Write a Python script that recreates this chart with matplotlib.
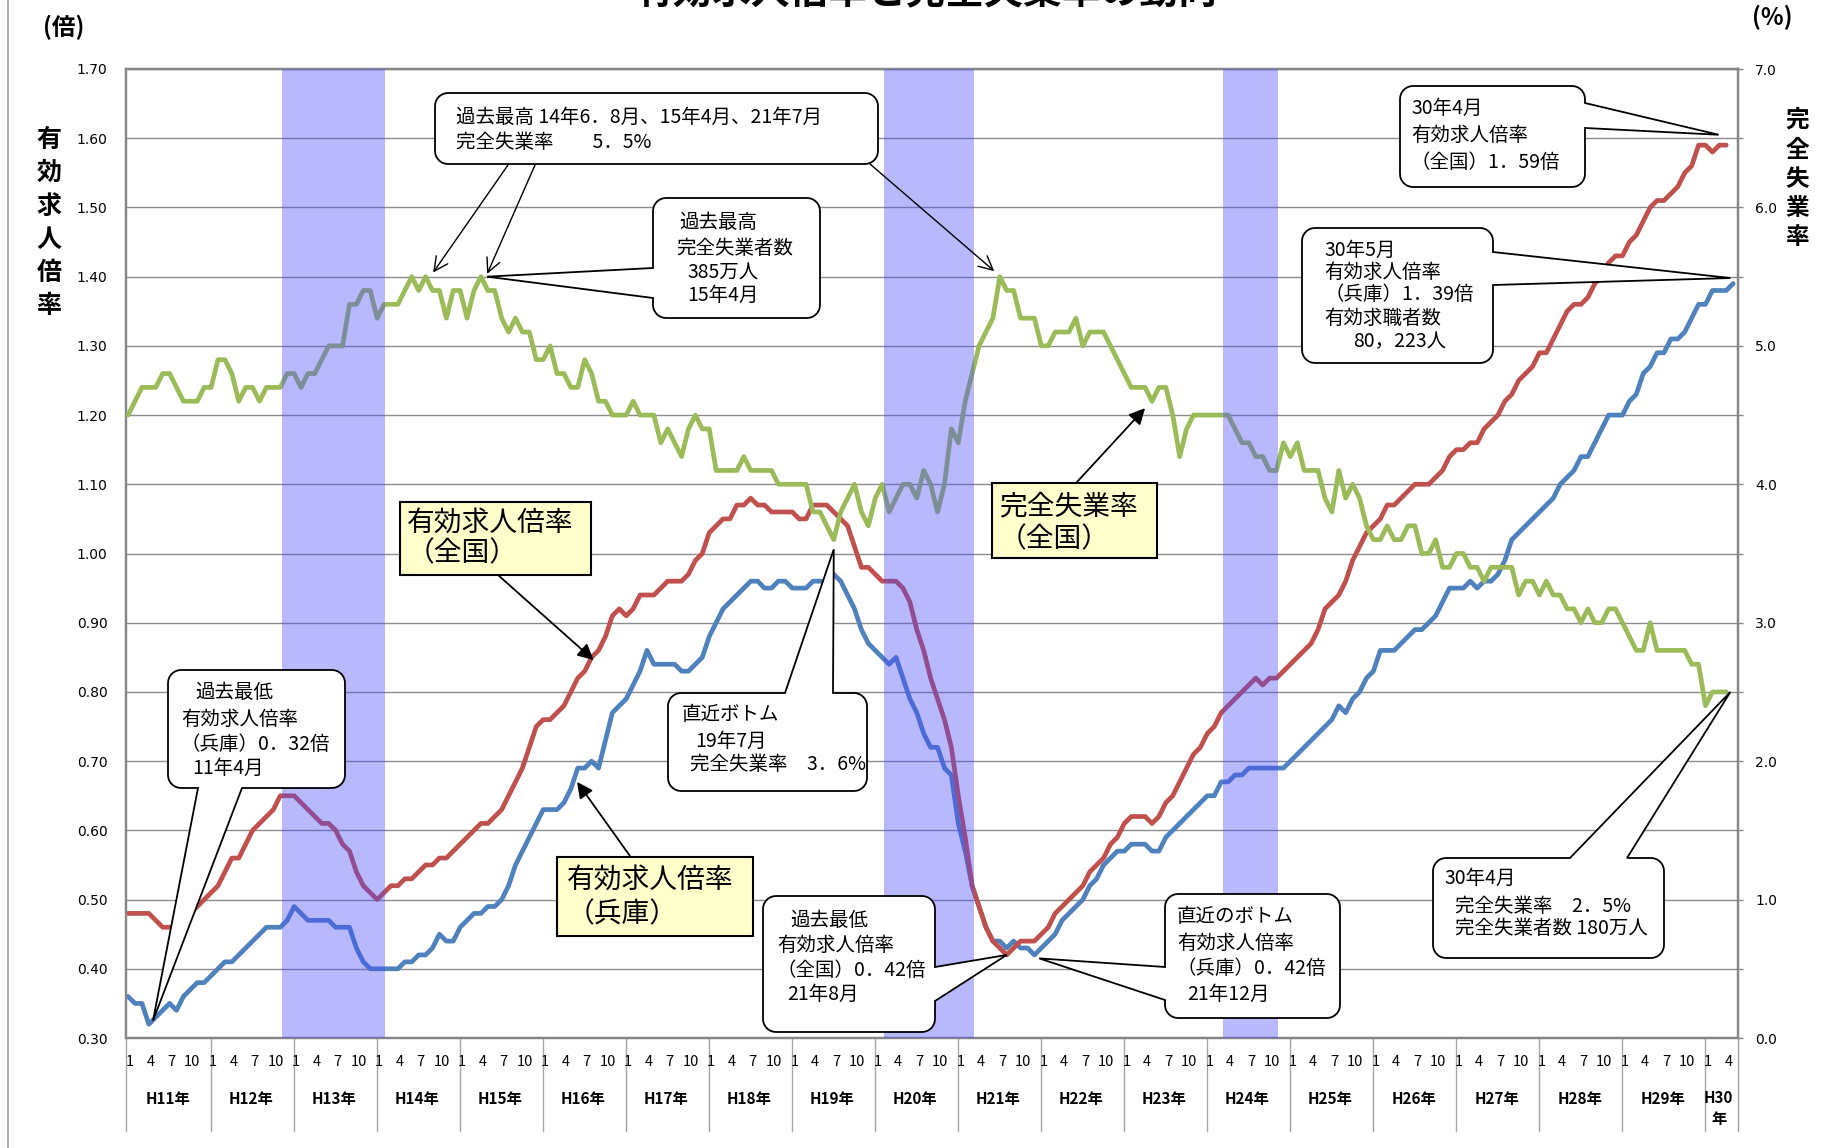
import numpy as np
import matplotlib
matplotlib.use('Agg')
import matplotlib.pyplot as plt
from matplotlib.patches import Polygon, Rectangle
from matplotlib.lines import Line2D
from matplotlib.transforms import IdentityTransform, blended_transform_factory
from matplotlib.ticker import FormatStrFormatter, MultipleLocator

plt.rcParams['font.family'] = ['Noto Sans CJK JP', 'DejaVu Sans']
plt.rcParams['hatch.linewidth'] = 0.5

# ---------------- data (monthly, H11.1 - H30.5) ----------------
year_labels = ['H11年', 'H12年', 'H13年', 'H14年', 'H15年', 'H16年', 'H17年', 'H18年', 'H19年', 'H20年',
               'H21年', 'H22年', 'H23年', 'H24年', 'H25年', 'H26年', 'H27年', 'H28年', 'H29年', 'H30年']
month_labels = ['1', '4', '7', '10']

# 有効求人倍率（全国） H11.1 - H30.4
ratio_national = [
    0.48, 0.48, 0.48, 0.48, 0.47, 0.46, 0.46, 0.46, 0.47, 0.48, 0.49, 0.50,
    0.51, 0.52, 0.54, 0.56, 0.56, 0.58, 0.60, 0.61, 0.62, 0.63, 0.65, 0.65,
    0.65, 0.64, 0.63, 0.62, 0.61, 0.61, 0.60, 0.58, 0.57, 0.54, 0.52, 0.51,
    0.50, 0.51, 0.52, 0.52, 0.53, 0.53, 0.54, 0.55, 0.55, 0.56, 0.56, 0.57,
    0.58, 0.59, 0.60, 0.61, 0.61, 0.62, 0.63, 0.65, 0.67, 0.69, 0.72, 0.75,
    0.76, 0.76, 0.77, 0.78, 0.80, 0.82, 0.83, 0.85, 0.86, 0.88, 0.91, 0.92,
    0.91, 0.92, 0.94, 0.94, 0.94, 0.95, 0.96, 0.96, 0.96, 0.97, 0.99, 1.00,
    1.03, 1.04, 1.05, 1.05, 1.07, 1.07, 1.08, 1.07, 1.07, 1.06, 1.06, 1.06,
    1.06, 1.05, 1.05, 1.07, 1.07, 1.07, 1.06, 1.05, 1.04, 1.01, 0.98, 0.98,
    0.97, 0.96, 0.96, 0.96, 0.95, 0.93, 0.89, 0.86, 0.82, 0.79, 0.76, 0.72,
    0.65, 0.59, 0.52, 0.49, 0.46, 0.44, 0.43, 0.42, 0.43, 0.44, 0.44, 0.44,
    0.45, 0.46, 0.48, 0.49, 0.50, 0.51, 0.52, 0.54, 0.55, 0.56, 0.58, 0.59,
    0.61, 0.62, 0.62, 0.62, 0.61, 0.62, 0.64, 0.65, 0.67, 0.69, 0.71, 0.72,
    0.74, 0.75, 0.77, 0.78, 0.79, 0.80, 0.81, 0.82, 0.81, 0.82, 0.82, 0.83,
    0.84, 0.85, 0.86, 0.87, 0.89, 0.92, 0.93, 0.94, 0.96, 0.99, 1.01, 1.03,
    1.04, 1.05, 1.07, 1.07, 1.08, 1.09, 1.10, 1.10, 1.10, 1.11, 1.12, 1.14,
    1.15, 1.15, 1.16, 1.16, 1.18, 1.19, 1.20, 1.22, 1.23, 1.25, 1.26, 1.27,
    1.29, 1.29, 1.31, 1.33, 1.35, 1.36, 1.36, 1.37, 1.39, 1.40, 1.42, 1.43,
    1.43, 1.45, 1.46, 1.48, 1.50, 1.51, 1.51, 1.52, 1.53, 1.55, 1.56, 1.59,
    1.59, 1.58, 1.59, 1.59,
]

# 有効求人倍率（兵庫） H11.1 - H30.5
ratio_hyogo = [
    0.36, 0.35, 0.35, 0.32, 0.33, 0.34, 0.35, 0.34, 0.36, 0.37, 0.38, 0.38,
    0.39, 0.40, 0.41, 0.41, 0.42, 0.43, 0.44, 0.45, 0.46, 0.46, 0.46, 0.47,
    0.49, 0.48, 0.47, 0.47, 0.47, 0.47, 0.46, 0.46, 0.46, 0.43, 0.41, 0.40,
    0.40, 0.40, 0.40, 0.40, 0.41, 0.41, 0.42, 0.42, 0.43, 0.45, 0.44, 0.44,
    0.46, 0.47, 0.48, 0.48, 0.49, 0.49, 0.50, 0.52, 0.55, 0.57, 0.59, 0.61,
    0.63, 0.63, 0.63, 0.64, 0.66, 0.69, 0.69, 0.70, 0.69, 0.73, 0.77, 0.78,
    0.79, 0.81, 0.83, 0.86, 0.84, 0.84, 0.84, 0.84, 0.83, 0.83, 0.84, 0.85,
    0.88, 0.90, 0.92, 0.93, 0.94, 0.95, 0.96, 0.96, 0.95, 0.95, 0.96, 0.96,
    0.95, 0.95, 0.95, 0.96, 0.96, 0.96, 0.97, 0.96, 0.94, 0.92, 0.89, 0.87,
    0.86, 0.85, 0.84, 0.85, 0.82, 0.79, 0.77, 0.74, 0.72, 0.72, 0.69, 0.68,
    0.61, 0.57, 0.52, 0.49, 0.46, 0.44, 0.44, 0.43, 0.44, 0.43, 0.43, 0.42,
    0.43, 0.44, 0.45, 0.47, 0.48, 0.49, 0.50, 0.52, 0.53, 0.55, 0.56, 0.57,
    0.57, 0.58, 0.58, 0.58, 0.57, 0.57, 0.59, 0.60, 0.61, 0.62, 0.63, 0.64,
    0.65, 0.65, 0.67, 0.67, 0.68, 0.68, 0.69, 0.69, 0.69, 0.69, 0.69, 0.69,
    0.70, 0.71, 0.72, 0.73, 0.74, 0.75, 0.76, 0.78, 0.77, 0.79, 0.80, 0.82,
    0.83, 0.86, 0.86, 0.86, 0.87, 0.88, 0.89, 0.89, 0.90, 0.91, 0.93, 0.95,
    0.95, 0.95, 0.96, 0.95, 0.96, 0.96, 0.97, 0.99, 1.02, 1.03, 1.04, 1.05,
    1.06, 1.07, 1.08, 1.10, 1.11, 1.12, 1.14, 1.14, 1.16, 1.18, 1.20, 1.20,
    1.20, 1.22, 1.23, 1.26, 1.27, 1.29, 1.29, 1.31, 1.31, 1.32, 1.34, 1.36,
    1.36, 1.38, 1.38, 1.38, 1.39,
]

# 完全失業率（全国, %） H11.1 - H30.4
unemployment = [
    4.5, 4.6, 4.7, 4.7, 4.7, 4.8, 4.8, 4.7, 4.6, 4.6, 4.6, 4.7,
    4.7, 4.9, 4.9, 4.8, 4.6, 4.7, 4.7, 4.6, 4.7, 4.7, 4.7, 4.8,
    4.8, 4.7, 4.8, 4.8, 4.9, 5.0, 5.0, 5.0, 5.3, 5.3, 5.4, 5.4,
    5.2, 5.3, 5.3, 5.3, 5.4, 5.5, 5.4, 5.5, 5.4, 5.4, 5.2, 5.4,
    5.4, 5.2, 5.4, 5.5, 5.4, 5.4, 5.2, 5.1, 5.2, 5.1, 5.1, 4.9,
    4.9, 5.0, 4.8, 4.8, 4.7, 4.7, 4.9, 4.8, 4.6, 4.6, 4.5, 4.5,
    4.5, 4.6, 4.5, 4.5, 4.5, 4.3, 4.4, 4.3, 4.2, 4.4, 4.5, 4.4,
    4.4, 4.1, 4.1, 4.1, 4.1, 4.2, 4.1, 4.1, 4.1, 4.1, 4.0, 4.0,
    4.0, 4.0, 4.0, 3.8, 3.8, 3.7, 3.6, 3.8, 3.9, 4.0, 3.8, 3.7,
    3.9, 4.0, 3.8, 3.9, 4.0, 4.0, 3.9, 4.1, 4.0, 3.8, 4.0, 4.4,
    4.3, 4.6, 4.8, 5.0, 5.1, 5.2, 5.5, 5.4, 5.4, 5.2, 5.2, 5.2,
    5.0, 5.0, 5.1, 5.1, 5.1, 5.2, 5.0, 5.1, 5.1, 5.1, 5.0, 4.9,
    4.8, 4.7, 4.7, 4.7, 4.6, 4.7, 4.7, 4.5, 4.2, 4.4, 4.5, 4.5,
    4.5, 4.5, 4.5, 4.5, 4.4, 4.3, 4.3, 4.2, 4.2, 4.1, 4.1, 4.3,
    4.2, 4.3, 4.1, 4.1, 4.1, 3.9, 3.8, 4.1, 3.9, 4.0, 3.9, 3.7,
    3.6, 3.6, 3.7, 3.6, 3.6, 3.7, 3.7, 3.5, 3.5, 3.6, 3.4, 3.4,
    3.5, 3.5, 3.4, 3.4, 3.3, 3.4, 3.4, 3.4, 3.4, 3.2, 3.3, 3.3,
    3.2, 3.3, 3.2, 3.2, 3.1, 3.1, 3.0, 3.1, 3.0, 3.0, 3.1, 3.1,
    3.0, 2.9, 2.8, 2.8, 3.0, 2.8, 2.8, 2.8, 2.8, 2.8, 2.7, 2.7,
    2.4, 2.5, 2.5, 2.5,
]

# 景気後退期（月インデックス: 0 = H11年1月）
recession_start = [22, 109, 158]
recession_end = [37, 122, 166]

assert len(ratio_national) == 232 and len(ratio_hyogo) == 233 and len(unemployment) == 232

# ---------------- figure ----------------
W, H = 1832, 1148
fig = plt.figure(figsize=(W / 100, H / 100), dpi=100)
fig.patch.set_facecolor('white')
PL, PR, PT, PB = 126, 1738, 69, 1038
ax = fig.add_axes([PL / W, 1 - PB / H, (PR - PL) / W, (PB - PT) / H])
ax2 = ax.twinx()

XMIN, XMAX = -0.3, 232.7
ax.plot(np.arange(len(ratio_hyogo)), ratio_hyogo, color='#4F81BD', lw=3.4,
        solid_joinstyle='round', solid_capstyle='round', zorder=3)
ax.plot(np.arange(len(ratio_national)), ratio_national, color='#C0504D', lw=3.4,
        solid_joinstyle='round', solid_capstyle='round', zorder=4)
ax2.plot(np.arange(len(unemployment)), unemployment, color='#9BBB59', lw=3.4,
         solid_joinstyle='round', solid_capstyle='round', zorder=3)

for s, e in zip(recession_start, recession_end):
    ax2.axvspan(s + 0.2, e + 0.2, facecolor=(0.45, 0.45, 1.0, 0.12),
                edgecolor=(0.25, 0.25, 1.0, 0.30), hatch='+' * 14, lw=0, zorder=6)

ax.set_xlim(XMIN, XMAX)
ax2.set_xlim(XMIN, XMAX)
ax.set_ylim(0.30, 1.70)
ax2.set_ylim(0, 7)

ax.set_yticks(np.round(np.arange(0.30, 1.701, 0.10), 2))
ax.yaxis.set_major_formatter(FormatStrFormatter('%.2f'))
ax.yaxis.grid(True, color='#8c8c8c', lw=1.0)
ax.set_axisbelow(True)
ax.tick_params(axis='y', length=0, pad=13.3, labelsize=10, labelfontfamily='DejaVu Sans')
ax.set_xticks([])
ax2.set_xticks([])

ax2.set_yticks(range(0, 8))
ax2.yaxis.set_minor_locator(MultipleLocator(0.5))
ax2.yaxis.set_major_formatter(FormatStrFormatter('%.1f'))
ax2.tick_params(axis='y', which='both', direction='out', length=3.5, width=1.0,
                color='#868686', pad=8.7, labelsize=10, labelfontfamily='DejaVu Sans')

for a in (ax, ax2):
    for sp in a.spines.values():
        sp.set_color('#868686')
        sp.set_linewidth(1.6)

# ---------------- category axis (months / years) ----------------
blend = blended_transform_factory(ax.transData, IdentityTransform())
n_months = len(ratio_hyogo)
for k in range(len(year_labels)):
    for j, ml in enumerate(month_labels):
        m = 12 * k + 3 * j
        if m < n_months:
            ax.text(m + 0.3, H - 1062, ml, transform=blend, ha='center', va='center',
                    fontsize=10.5, clip_on=False)
for k, yl in enumerate(year_labels[:-1]):
    ax.text(12 * k + 5.8, H - 1099, yl, transform=blend, ha='center', va='center',
            fontsize=11, fontweight='bold', clip_on=False)
last = year_labels[-1]
ax.text(229.9, H - 1098, last[:-1], transform=blend, ha='center', va='center',
        fontsize=11, fontweight='bold', clip_on=False)
ax.text(229.9, H - 1119, last[-1], transform=blend, ha='center', va='center',
        fontsize=11, fontweight='bold', clip_on=False)
for xv in [XMIN] + [12 * k for k in range(1, len(year_labels))] + [XMAX]:
    ax.add_line(Line2D([xv, xv], [H - PB, H - 1131], transform=blend, color='#a6a6a6',
                       lw=1.0, clip_on=False))
ax.set_xlim(XMIN, XMAX)

# ---------------- axis titles ----------------
def ftext(x, y, s, size=14, ha='left', va='center', **kw):
    fig.text(x / W, 1 - y / H, s, fontsize=size, ha=ha, va=va, zorder=10, **kw)

ftext(926, -8, '有効求人倍率と完全失業率の動向', size=28, ha='center', fontweight='bold')
ftext(64, 27, '(倍)', size=17, ha='center', fontweight='bold')
ftext(1772, 17, '(%)', size=17, ha='center', fontweight='bold')
for ch, yy in zip('有効求人倍率', [140, 173, 207, 240, 273, 306]):
    ftext(49, yy, ch, size=18, ha='center', fontweight='bold')
for ch, yy in zip('完全失業率', [120, 150, 179, 208, 237]):
    ftext(1797, yy, ch, size=17, ha='center', fontweight='bold')

fig.add_artist(Line2D([8, 8], [0, H], transform=IdentityTransform(), color='#a0a0a0', lw=1.2))

# ---------------- callouts ----------------
def arc(cx, cy, a0, a1, r, n=8):
    t = np.radians(np.linspace(a0, a1, n))
    return [(cx + r * np.cos(tt), cy + r * np.sin(tt)) for tt in t]


def callout(box, side=None, base=None, tip=None, r=13):
    x0, y0, x1, y1 = box
    Yb, Yt = H - y1, H - y0
    pts = [(x0 + r, Yb)]
    if side == 'bottom':
        b = sorted(base)
        pts += [(b[0], Yb), tuple(tip), (b[1], Yb)]
    pts.append((x1 - r, Yb))
    pts += arc(x1 - r, Yb + r, -90, 0, r)
    if side == 'right':
        b = sorted(H - v for v in base)
        pts += [(x1, b[0]), tuple(tip), (x1, b[1])]
    pts += arc(x1 - r, Yt - r, 0, 90, r)
    if side == 'top':
        b = sorted(base, reverse=True)
        pts += [(b[0], Yt), tuple(tip), (b[1], Yt)]
    pts += arc(x0 + r, Yt - r, 90, 180, r)
    if side == 'left':
        b = sorted((H - v for v in base), reverse=True)
        pts += [(x0, b[0]), tuple(tip), (x0, b[1])]
    pts += arc(x0 + r, Yb + r, 180, 270, r)
    fig.add_artist(Polygon(pts, closed=True, facecolor='white', edgecolor='black', lw=1.3,
                           joinstyle='miter', transform=IdentityTransform(), zorder=5))


def lines(items, size=14):
    for s, x, y in items:
        ftext(x, y, s, size=size)


L = ax.transData.transform
R = ax2.transData.transform

# 1: 過去最高 完全失業率
callout((435, 93, 878, 164))
lines([('過去最高 14年6．8月、15年4月、21年7月', 456, 117), ('完全失業率　　5．5%', 456, 143)])
for start, tip in [((508, 165), (44.1, 5.53)), ((535, 165), (51.9, 5.52)), ((870, 164), (125.2, 5.54))]:
    ax2.annotate('', xy=tip, xycoords='data', xytext=(start[0], H - start[1]),
                 textcoords='figure pixels', annotation_clip=False, zorder=7,
                 arrowprops=dict(arrowstyle='->', color='black', lw=1.0, shrinkA=0, shrinkB=0,
                                 mutation_scale=25))

# 2: 過去最高 完全失業者数
callout((653, 198, 820, 318), 'left', (268, 298), R((51.9, 5.5)))
lines([('過去最高', 679, 222), ('完全失業者数', 676, 249), ('385万人', 687, 273), ('15年4月', 687, 295)])

# 3: 30年4月 全国
callout((1400, 86, 1585, 187), 'right', (103, 128), L((229.9, 1.605)))
lines([('30年4月', 1411, 108), ('有効求人倍率', 1411, 135), ('（全国）1．59倍', 1411, 162)])

# 4: 30年5月 兵庫
callout((1302, 228, 1493, 363), 'right', (252, 285), L((231.6, 1.398)))
lines([('30年5月', 1324, 250), ('有効求人倍率', 1324, 272), ('（兵庫）1．39倍', 1324, 295),
       ('有効求職者数', 1324, 318), ('80，223人', 1353, 342)])

# 5: 過去最低 兵庫
callout((168, 670, 345, 788), 'bottom', (198, 242), L((3.6, 0.325)))
lines([('過去最低', 195, 693), ('有効求人倍率', 181, 719), ('（兵庫）0．32倍', 181, 744), ('11年4月', 192, 768)])

# 6: 直近ボトム 完全失業率
callout((668, 693, 867, 791), 'top', (785, 833), R((102.0, 3.53)))
lines([('直近ボトム', 682, 714), ('19年7月', 695, 741), ('完全失業率　3．6%', 690, 765)])

# 7: 過去最低 全国
callout((763, 896, 935, 1032), 'right', (967, 1001), L((127, 0.42)))
lines([('過去最低', 790, 920), ('有効求人倍率', 777, 945), ('（全国）0．42倍', 777, 971), ('21年8月', 787, 994)])

# 8: 直近のボトム 兵庫
callout((1165, 894, 1340, 1018), 'left', (967, 1000), L((131.7, 0.415)))
lines([('直近のボトム', 1177, 917), ('有効求人倍率', 1177, 943), ('（兵庫）0．42倍', 1177, 969), ('21年12月', 1187, 994)])

# 9: 30年4月 完全失業率
callout((1433, 858, 1664, 958), 'top', (1570, 1627), R((231.6, 2.5)))
lines([('30年4月', 1444, 878), ('完全失業率　2．5%', 1455, 906), ('完全失業者数 180万人', 1455, 929)])

# ---------------- yellow labels ----------------
def ylabel_box(box, texts, start, target_ax, tip):
    x0, y0, x1, y1 = box
    fig.add_artist(Rectangle((x0, H - y1), x1 - x0, y1 - y0, facecolor='#FFFFCC', edgecolor='black',
                             lw=1.5, transform=IdentityTransform(), zorder=5))
    for s, x, y in texts:
        ftext(x, y, s, size=20)
    target_ax.annotate('', xy=tip, xycoords='data', xytext=(start[0], H - start[1]),
                       textcoords='figure pixels', annotation_clip=False, zorder=7,
                       arrowprops=dict(arrowstyle='-|>', color='black', lw=1.3, shrinkA=0, shrinkB=0,
                                       mutation_scale=24))

ylabel_box((400, 502, 591, 575), [('有効求人倍率', 407, 523), ('（全国）', 407, 553)], (498, 575), ax, (67.3, 0.846))
ylabel_box((557, 857, 753, 936), [('有効求人倍率', 567, 880), ('（兵庫）', 567, 914)], (630, 856), ax, (64.9, 0.670))
ylabel_box((992, 483, 1157, 558), [('完全失業率', 999, 506), ('（全国）', 999, 539)], (1077, 482), ax2, (147.0, 4.55))

fig.savefig('out.png', dpi=100, facecolor='white')
